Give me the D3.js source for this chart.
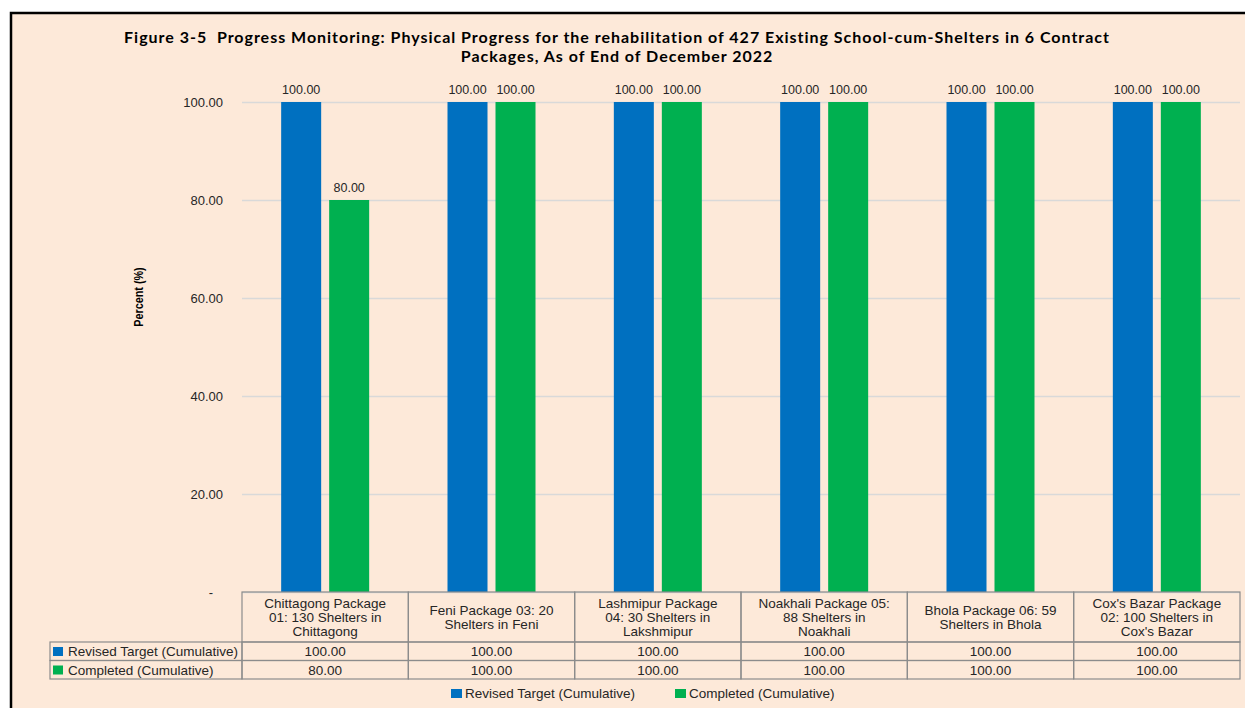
<!DOCTYPE html>
<html>
<head>
<meta charset="utf-8">
<script src="https://cdn.jsdelivr.net/npm/d3@7"></script>
<style>
  body { margin: 0; background: #fff; }
  svg text { font-family: "Liberation Sans", Arial, sans-serif; }
</style>
</head>
<body>
<div id="chart"></div>
<script>
// chart data
const titleLines = [
  "Figure 3-5  Progress Monitoring: Physical Progress for the rehabilitation of 427 Existing School-cum-Shelters in 6 Contract",
  "Packages, As of End of December 2022"
];
const categories = [
  "Chittagong Package\n01: 130 Shelters in\nChittagong",
  "Feni Package 03: 20\nShelters in Feni",
  "Lashmipur Package\n04: 30 Shelters in\nLakshmipur",
  "Noakhali Package 05:\n88 Shelters in\nNoakhali",
  "Bhola Package 06: 59\nShelters in Bhola",
  "Cox's Bazar Package\n02: 100 Shelters in\nCox's Bazar"
];
const seriesNames = ["Revised Target (Cumulative)", "Completed (Cumulative)"];
const revisedTarget = [100, 100, 100, 100, 100, 100];
const completed = [80, 100, 100, 100, 100, 100];
const yTicks = [0, 20, 40, 60, 80, 100];
const yLabel = "Percent (%)";

const seriesValues = [revisedTarget, completed];
const colors = ["#0070c0", "#00b050"];

const width = 1245;
const height = 708;
const plot = { left: 242, right: 1240, top: 102, bottom: 592 };
const tableLeft = 50;
const headerBottom = 642;
const rowH = 18.5;
const tableFont = '13.5px';

const svg = d3.select('#chart')
  .append('svg')
  .attr('width', width)
  .attr('height', height);

// peach panel with the black frame on top/left
svg.append('rect')
  .attr('x', 11).attr('y', 13)
  .attr('width', width - 11).attr('height', height - 13)
  .attr('fill', '#fde9d9');
svg.append('path')
  .attr('d', `M11,${height} V13 H${width}`)
  .attr('fill', 'none')
  .attr('stroke', '#000')
  .attr('stroke-width', 2.5);

// title
svg.append('g')
  .selectAll('text')
  .data(titleLines)
  .join('text')
  .attr('x', 617)
  .attr('y', (d, i) => 43 + i * 19)
  .attr('text-anchor', 'middle')
  .style('font-family', 'Lato, "Open Sans", sans-serif')
  .style('font-weight', 700)
  .style('font-size', '16px')
  .style('letter-spacing', '0.98px')
  .style('white-space', 'pre')
  .attr('fill', '#000')
  .text(d => d);

// scales
const xScale = d3.scaleBand()
  .domain(d3.range(categories.length))
  .range([plot.left, plot.right]);

const xInner = d3.scaleBand()
  .domain(d3.range(seriesNames.length))
  .range([xScale.bandwidth() / 2 - 44, xScale.bandwidth() / 2 + 44])
  .paddingInner(8 / 48);

const yScale = d3.scaleLinear()
  .domain([0, 100])
  .range([plot.bottom, plot.top]);

// y axis with gridlines
const yAxis = d3.axisLeft(yScale)
  .tickValues(yTicks)
  .tickSize(-(plot.right - plot.left))
  .tickPadding(19)
  .tickFormat(d => d === 0 ? '-' : d3.format('.2f')(d));

const yg = svg.append('g')
  .attr('transform', `translate(${plot.left},0)`)
  .call(yAxis);
yg.select('.domain').remove();
yg.selectAll('.tick line')
  .attr('stroke', '#d9d9d9')
  .attr('stroke-width', 1.3);
yg.selectAll('.tick text')
  .style('font-size', '13px')
  .attr('fill', '#262626');
yg.selectAll('.tick')
  .filter(d => d === 0)
  .select('text')
  .attr('dx', -10);

// axis title, squeezed to look like a narrow bold face
svg.append('text')
  .attr('transform', 'translate(143,297) rotate(-90) scale(0.8,1)')
  .attr('text-anchor', 'middle')
  .style('font-weight', 700)
  .style('font-size', '13.5px')
  .attr('fill', '#000')
  .text(yLabel);

// bars
const groups = svg.append('g')
  .selectAll('g')
  .data(categories.map((c, i) => i))
  .join('g')
  .attr('transform', i => `translate(${xScale(i)},0)`);

groups.selectAll('rect')
  .data(i => seriesValues.map((vals, s) => ({ s, v: vals[i] })))
  .join('rect')
  .attr('x', d => xInner(d.s))
  .attr('y', d => yScale(d.v))
  .attr('width', xInner.bandwidth())
  .attr('height', d => yScale(0) - yScale(d.v))
  .attr('fill', d => colors[d.s]);

groups.selectAll('text.val')
  .data(i => seriesValues.map((vals, s) => ({ s, v: vals[i] })))
  .join('text')
  .attr('class', 'val')
  .attr('x', d => xInner(d.s) + xInner.bandwidth() / 2)
  .attr('y', d => yScale(d.v) - 8)
  .attr('text-anchor', 'middle')
  .style('font-size', '12.5px')
  .attr('fill', '#262626')
  .text(d => d3.format('.2f')(d.v));

// data table under the plot
const table = svg.append('g');
const gridStroke = '#8c8c8c';

// header cells
table.selectAll('rect.head')
  .data(categories.map((c, i) => i))
  .join('rect')
  .attr('class', 'head')
  .attr('x', i => xScale(i))
  .attr('y', plot.bottom)
  .attr('width', xScale.bandwidth())
  .attr('height', headerBottom - plot.bottom)
  .attr('fill', 'none')
  .attr('stroke', gridStroke)
  .attr('stroke-width', 1.2);

table.selectAll('text.head')
  .data(categories)
  .join('text')
  .attr('class', 'head')
  .attr('text-anchor', 'middle')
  .style('font-size', tableFont)
  .attr('fill', '#262626')
  .each(function (d, i) {
    const lines = d.split('\n');
    const cy = (plot.bottom + headerBottom) / 2;
    const y0 = cy - (lines.length - 1) * 14 / 2 + 4.5;
    d3.select(this).selectAll('tspan')
      .data(lines)
      .join('tspan')
      .attr('x', xScale(i) + xScale.bandwidth() / 2)
      .attr('y', (l, k) => y0 + k * 14)
      .text(l => l);
  });

// series rows
const rows = table.selectAll('g.row')
  .data(seriesNames.map((n, s) => s))
  .join('g')
  .attr('class', 'row')
  .attr('transform', s => `translate(0,${headerBottom + s * rowH})`);

rows.append('rect')
  .attr('x', tableLeft)
  .attr('y', 0)
  .attr('width', plot.left - tableLeft)
  .attr('height', rowH)
  .attr('fill', 'none')
  .attr('stroke', gridStroke)
  .attr('stroke-width', 1.2);

rows.append('rect')
  .attr('x', tableLeft + 3)
  .attr('y', 5)
  .attr('width', 10)
  .attr('height', 9)
  .attr('fill', s => colors[s]);

rows.append('text')
  .attr('x', tableLeft + 18)
  .attr('y', 14)
  .style('font-size', tableFont)
  .attr('fill', '#262626')
  .text(s => seriesNames[s]);

rows.selectAll('rect.cell')
  .data(s => seriesValues[s].map((v, i) => ({ v, i })))
  .join('rect')
  .attr('class', 'cell')
  .attr('x', d => xScale(d.i))
  .attr('y', 0)
  .attr('width', xScale.bandwidth())
  .attr('height', rowH)
  .attr('fill', 'none')
  .attr('stroke', gridStroke)
  .attr('stroke-width', 1.2);

rows.selectAll('text.cell')
  .data(s => seriesValues[s].map((v, i) => ({ v, i })))
  .join('text')
  .attr('class', 'cell')
  .attr('x', d => xScale(d.i) + xScale.bandwidth() / 2)
  .attr('y', 14)
  .attr('text-anchor', 'middle')
  .style('font-size', tableFont)
  .attr('fill', '#262626')
  .text(d => d3.format('.2f')(d.v));

// legend
const legendX = [451, 675];
const legend = svg.append('g')
  .selectAll('g')
  .data(seriesNames)
  .join('g')
  .attr('transform', (d, i) => `translate(${legendX[i]},689)`);

legend.append('rect')
  .attr('width', 11)
  .attr('height', 9)
  .attr('fill', (d, i) => colors[i]);

legend.append('text')
  .attr('x', 14)
  .attr('y', 9)
  .style('font-size', tableFont)
  .attr('fill', '#262626')
  .text(d => d);
</script>
</body>
</html>
